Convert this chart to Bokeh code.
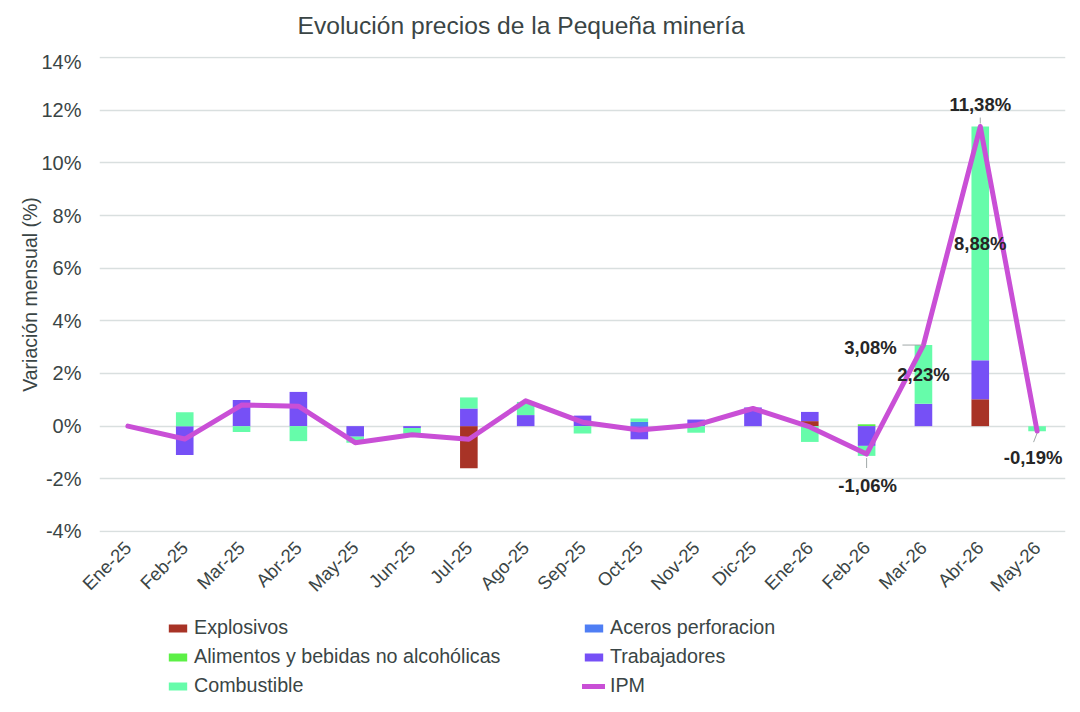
import numpy as np
from bokeh.plotting import figure
from bokeh.layouts import column
from bokeh.models import Range1d, FixedTicker, Legend, LegendItem
from bokeh.core.properties import value
from bokeh.embed import file_html
from bokeh.resources import INLINE

# monthly variation (%) by component
months = ["Ene-25", "Feb-25", "Mar-25", "Abr-25", "May-25", "Jun-25", "Jul-25",
          "Ago-25", "Sep-25", "Oct-25", "Nov-25", "Dic-25", "Ene-26", "Feb-26",
          "Mar-26", "Abr-26", "May-26"]
explosivos = [0, 0, 0, 0, 0, 0, -1.60, 0, 0, 0, 0, 0, 0.19, 0, 0, 1.02, 0]
aceros = [0, 0, 0, 0, 0, 0, 0, 0, 0, 0.16, 0, 0, 0, 0, 0, 0, 0]
alimentos = [0, 0, 0, 0, 0, 0, 0, 0, 0, 0, 0, 0, 0, 0.07, 0, 0, 0]
trabajadores = [0, -1.10, 0.99, 1.30, -0.40, -0.07, 0.67, 0.42, 0.40, -0.50,
                0.25, 0.71, 0.35, -0.75, 0.85, 1.48, 0]
combustible = [0, 0.53, -0.22, -0.57, -0.23, -0.22, 0.42, 0.50, -0.28, 0.13,
               -0.25, 0, -0.60, -0.38, 2.23, 8.88, -0.19]
ipm = [0, -0.49, 0.80, 0.76, -0.63, -0.33, -0.50, 0.96, 0.15, -0.15, 0.04,
       0.67, -0.03, -1.06, 3.08, 11.38, -0.19]

y_ticks = [-4, -2, 0, 2, 4, 6, 8, 10, 12, 14]
y_tick_labels = ["-4%", "-2%", "0%", "2%", "4%", "6%", "8%", "10%", "12%", "14%"]

TITLE = "Evolución precios de la Pequeña minería"
TXT = "#3a4545"
FONT = "Liberation Sans"
IPM_COLOR = "#C94FD6"
W, LEFT, RIGHT = 1072, 99, 7
FRAME_W = W - LEFT - RIGHT

series = [
    ("Explosivos", explosivos, "#A83326"),
    ("Aceros perforacion", aceros, "#4F7EF4"),
    ("Alimentos y bebidas no alcohólicas", alimentos, "#5CF046"),
    ("Trabajadores", trabajadores, "#7650F6"),
    ("Combustible", combustible, "#66FCAA"),
]

n = len(months)
x = np.arange(n)


def strip(height):
    f = figure(width=W, height=height, output_backend="svg", toolbar_location=None,
               title=None, x_range=Range1d(0, FRAME_W), y_range=Range1d(-1, 1),
               min_border_left=LEFT, min_border_right=RIGHT, min_border_top=0,
               min_border_bottom=0, x_axis_type=None, y_axis_type=None)
    f.outline_line_color = None
    f.grid.grid_line_color = None
    return f


# title strip
tf = strip(50)
tf.text(x=[198], y=[0], text=[TITLE], text_align="left", text_baseline="middle",
        text_font=value(FONT), text_font_size="24.6px", text_color=TXT)

p = figure(width=W, height=555, output_backend="svg", toolbar_location=None, title=None,
           x_range=Range1d(-0.5, n - 0.5), y_range=Range1d(-4.04, 14.04),
           min_border_left=LEFT, min_border_right=RIGHT, min_border_top=6,
           min_border_bottom=72)
p.outline_line_color = None

# axes
p.xaxis.ticker = FixedTicker(ticks=list(x))
p.xaxis.major_label_overrides = {int(i): m for i, m in zip(x, months)}
p.xaxis.major_label_orientation = np.pi / 4
p.xaxis.major_label_text_font_size = "18.5px"
p.xaxis.major_label_standoff = 6
p.yaxis.ticker = FixedTicker(ticks=y_ticks)
p.yaxis.major_label_overrides = {t: l for t, l in zip(y_ticks, y_tick_labels)}
p.yaxis.major_label_text_font_size = "20px"
p.yaxis.major_label_standoff = 12
p.yaxis.axis_label = "Variación mensual (%)"
p.yaxis.axis_label_text_font_size = "19.5px"
p.yaxis.axis_label_text_font_style = "normal"
p.yaxis.axis_label_standoff = -3
for ax in (p.xaxis, p.yaxis):
    ax.axis_line_color = None
    ax.major_tick_line_color = None
    ax.minor_tick_line_color = None
    ax.major_label_text_font = FONT
    ax.major_label_text_color = TXT
    ax.axis_label_text_font = FONT
    ax.axis_label_text_color = TXT
p.xgrid.grid_line_color = None
p.ygrid.ticker = FixedTicker(ticks=y_ticks)
p.ygrid.grid_line_color = "#d9dfdf"
p.ygrid.grid_line_width = 1.4

# stacked bars, positives and negatives stacked separately
pos_base = np.zeros(n)
neg_base = np.zeros(n)
mids = {}
for name, vals, color in series:
    v = np.array(vals, dtype=float)
    bottom = np.where(v >= 0, pos_base, neg_base)
    top = bottom + v
    pos_base = np.where(v > 0, top, pos_base)
    neg_base = np.where(v < 0, top, neg_base)
    mids[name] = (bottom + top) / 2
    m = v != 0
    p.vbar(x=x[m], bottom=bottom[m], top=top[m], width=0.31,
           fill_color=color, line_color=None)

p.line(x, ipm, line_color=IPM_COLOR, line_width=5, line_join="round", line_cap="round")


def fmt(v):
    return f"{v:.2f}%".replace(".", ",")


# data labels for the last months
px_x = n / FRAME_W
px_y = 18.08 / 477.0
lab_idx = [13, 14, 15, 16]
lab_dx = [1, -53, 0, -4]
lab_dy = [31, 2, -22, 26]
p.text(x=x[lab_idx], y=[ipm[i] for i in lab_idx], text=[fmt(ipm[i]) for i in lab_idx],
       x_offset=lab_dx, y_offset=lab_dy, text_align="center", text_baseline="middle",
       text_font=value(FONT), text_font_size="18.5px", text_font_style="bold",
       text_color="#262626")
comb_idx = [14, 15]
p.text(x=x[comb_idx], y=mids["Combustible"][comb_idx],
       text=[fmt(combustible[i]) for i in comb_idx],
       text_align="center", text_baseline="middle", text_font=value(FONT),
       text_font_size="18.5px", text_font_style="bold", text_color="#262626")

# leader lines (pixel offsets from the point)
lead = [(13, 0, -4, 0, -14), (14, -21, 0, -1, 0), (15, 0, 3, 0, 9), (16, 0, -2, -3.5, -11)]
p.segment(x0=[i + a * px_x for i, a, b, c, d in lead],
          y0=[ipm[i] + b * px_y for i, a, b, c, d in lead],
          x1=[i + c * px_x for i, a, b, c, d in lead],
          y1=[ipm[i] + d * px_y for i, a, b, c, d in lead],
          line_color="#a0a8a8", line_width=1)

# legend strip under the chart (keys point at zero-size proxies)
lf = strip(95)
items = []
for name, vals, color in series:
    r = lf.vbar(x=[500], bottom=[0], top=[0], width=0, fill_color=color, line_color=None)
    items.append(LegendItem(label=name, renderers=[r]))
r = lf.line(x=[500], y=[0], line_color=IPM_COLOR, line_width=5, line_cap="round")
items.append(LegendItem(label="IPM", renderers=[r]))

legend = Legend(items=items, ncols=2, orientation="horizontal", location=(67, 3),
                padding=0, margin=0, spacing=6, border_line_color=None,
                background_fill_alpha=0, glyph_width=23, glyph_height=10,
                label_width=382, label_height=23, label_standoff=5,
                label_text_font=FONT, label_text_font_size="19.7px",
                label_text_color=TXT)
lf.add_layout(legend, "center")

open("out.html", "w").write(file_html(column(tf, p, lf, spacing=0), INLINE, "Evolución precios"))
